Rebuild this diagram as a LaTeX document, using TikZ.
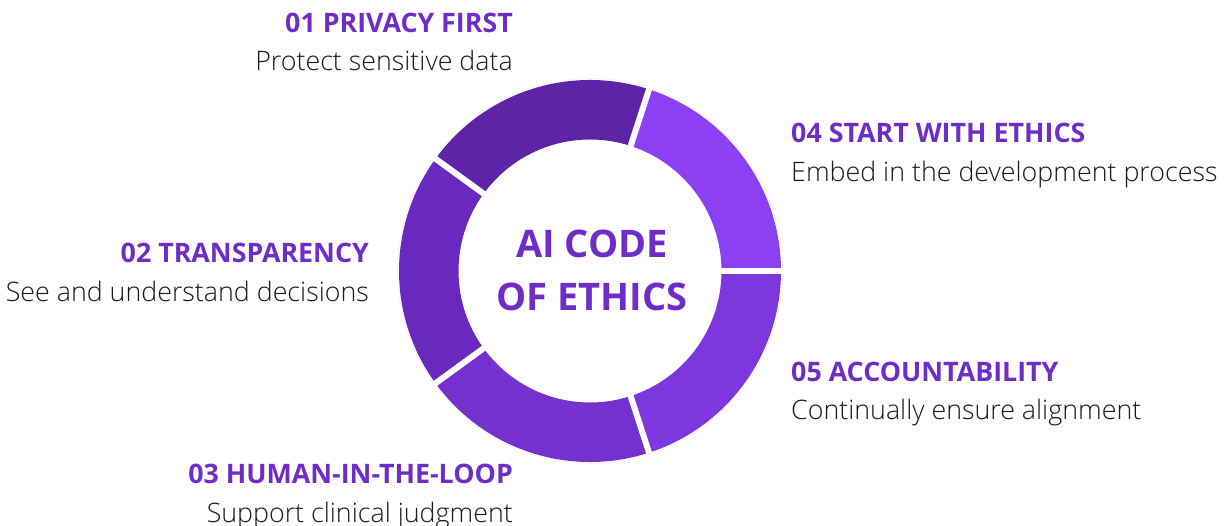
\documentclass[tikz,border=0pt]{standalone}
\usepackage{fontspec}
\setmainfont{Open Sans}
\newfontfamily\lightfont{Open Sans Light}
\usetikzlibrary{positioning}

\definecolor{titlepurple}{HTML}{6F2DC8}
\definecolor{segA}{HTML}{5F23A8}
\definecolor{segB}{HTML}{6A29BE}
\definecolor{segC}{HTML}{7531D0}
\definecolor{segD}{HTML}{8C40F3}
\definecolor{segE}{HTML}{7E37DE}
\definecolor{subtext}{HTML}{1A1A1A}

\begin{document}
\begin{tikzpicture}[x=1pt, y=1pt,
    title/.style={font=\bfseries\fontsize{26.8}{30}\selectfont, text=titlepurple, inner sep=0pt},
    sub/.style={font=\lightfont\fontsize{26.8}{30}\selectfont, text=subtext, inner sep=0pt},
    gap/.style={white, line width=6pt}]
            \useasboundingbox (0,0) rectangle (1226,525);
            % ring segments, 72 degrees each
            \def\rin{131.5}
            \def\rout{191}
            \begin{scope}[shift={(590,254)}]
                \foreach \a/\c in {0/segD, 72/segA, 144/segB, 216/segC, 288/segE}
                    \fill[\c] (\a:\rin) -- (\a:\rout) arc[start angle=\a, delta angle=72, radius=\rout]
                        -- ({\a+72}:\rin) arc[start angle=\a+72, delta angle=-72, radius=\rin] -- cycle;
                \draw[black!6, line width=0.6pt] (0,0) circle[radius=\rout+1.5];
                \foreach \a in {0, 72, 144, 216, 288}
                    \draw[gap] (\a:\rin-3) -- (\a:\rout+3);
                \node[font=\bfseries\fontsize{38}{53}\selectfont, text=titlepurple, align=center] (center) at (2,1) {AI CODE\\OF ETHICS};
            \end{scope}
            % labels
            \node[title, anchor=base east] (t1) at (513,492) {01 PRIVACY FIRST};
            \node[sub, below=38pt of t1.base east, anchor=base east] (s1) {Protect sensitive data};
            \node[title, anchor=base east] (t2) at (369,262) {02 TRANSPARENCY};
            \node[sub, below=39pt of t2.base east, anchor=base east] (s2) {See and understand decisions};
            \node[title, anchor=base east] (t3) at (513,42) {03 HUMAN-IN-THE-LOOP};
            \node[sub, below=39pt of t3.base east, anchor=base east] (s3) {Support clinical judgment};
            \node[title, anchor=base west] (t4) at (791,382) {04 START WITH ETHICS};
            \node[sub, below=39pt of t4.base west, anchor=base west] (s4) {Embed in the development process};
            \node[title, anchor=base west] (t5) at (791,143) {05 ACCOUNTABILITY};
            \node[sub, below=37pt of t5.base west, anchor=base west] (s5) {Continually ensure alignment};
        \end{tikzpicture}
\end{document}
